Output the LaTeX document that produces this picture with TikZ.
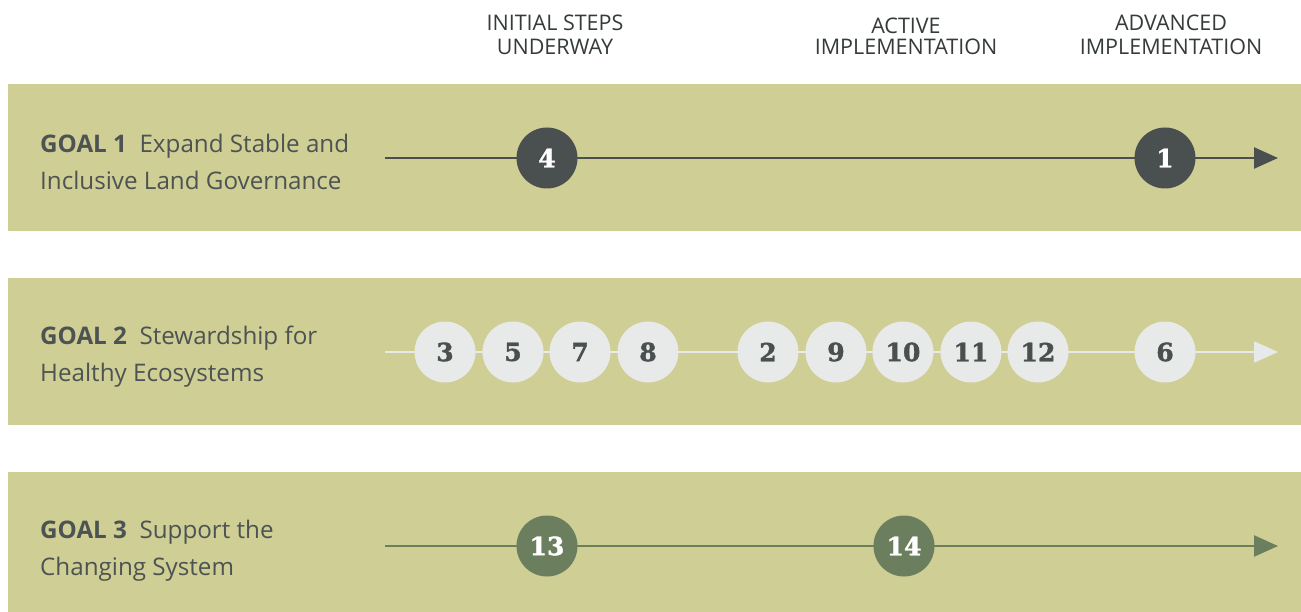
\documentclass[tikz,border=0pt]{standalone}
\usepackage{fontspec}
\setmainfont{Open Sans}[BoldFont={* Bold}]
\newfontfamily\numfont{DejaVu Serif}[BoldFont={* Bold}, BoldFeatures={FakeBold=1.5}]
\usetikzlibrary{arrows.meta}
\definecolor{bandc}{HTML}{CFCE95}
\definecolor{darkc}{HTML}{4A4F4F}
\definecolor{lightc}{HTML}{E8EAEA}
\definecolor{greenc}{HTML}{6B7F5F}
\definecolor{textc}{HTML}{4D5352}
\definecolor{headc}{HTML}{353A3A}
\tikzset{
  band/.style={fill=bandc},
  head/.style={text=headc, font=\fontsize{21.5}{24}\selectfont, align=center, inner sep=0pt},
  goal/.style={text=textc, font=\fontsize{24.2}{37}\selectfont, align=left, anchor=base west, inner sep=0pt},
  track/.style={line width=2.5pt, -{Triangle[length=24pt,width=21pt]}},
  dot/.style={circle, minimum size=61pt, inner sep=0pt, font=\numfont\bfseries\fontsize{25}{25}\selectfont},
  darkdot/.style={dot, fill=darkc, text=white},
  lightdot/.style={dot, fill=lightc, text=darkc},
  greendot/.style={dot, fill=greenc, text=white},
}
\begin{document}
\begin{tikzpicture}[x=1pt,y=-1pt]
\useasboundingbox (0,0) rectangle (1301,612);
% headers
\node[head] (h1) at (555,35) {INITIAL STEPS\\UNDERWAY};
\node[head, font=\fontsize{21.5}{21}\selectfont] (h2) at (906,36) {ACTIVE\\IMPLEMENTATION};
\node[head] (h3) at (1171,35) {ADVANCED\\IMPLEMENTATION};
% bands
\fill[band] (8,84) rectangle (1301,231);
\fill[band] (8,278) rectangle (1301,425);
\fill[band] (8,472) rectangle (1301,612);
% goal labels
\node[goal] (g1) at (40,190) {\textbf{GOAL 1}\ \ Expand Stable and\\Inclusive Land Governance};
\node[goal] (g2) at (40,381) {\textbf{GOAL 2}\ \ Stewardship for\\Healthy Ecosystems};
\node[goal] (g3) at (40,575) {\textbf{GOAL 3}\ \ Support the\\Changing System};
% tracks
\coordinate (s1) at (385,158); \coordinate (e1) at (1278,158);
\coordinate (s2) at (385,352); \coordinate (e2) at (1278,352);
\coordinate (s3) at (385,546); \coordinate (e3) at (1278,546);
\draw[track, darkc] (s1) -- (e1);
\draw[track, lightc, line width=2pt] (s2) -- (e2);
\draw[track, greenc] (s3) -- (e3);
% goal 1
\node[darkdot] (n4) at (547,158) {4};
\node[darkdot] (n1) at (1165,158) {1};
% goal 2
\node[lightdot] (n3) at (445,352) {3};
\node[lightdot] (n5) at (513,352) {5};
\node[lightdot] (n7) at (580,352) {7};
\node[lightdot] (n8) at (648,352) {8};
\node[lightdot] (n2) at (768,352) {2};
\node[lightdot] (n9) at (836,352) {9};
\node[lightdot] (n10) at (903,352) {10};
\node[lightdot] (n11) at (971,352) {11};
\node[lightdot] (n12) at (1038,352) {12};
\node[lightdot] (n6) at (1165,352) {6};
% goal 3
\node[greendot] (n13) at (547,546) {13};
\node[greendot] (n14) at (904,546) {14};
\end{tikzpicture}
\end{document}
